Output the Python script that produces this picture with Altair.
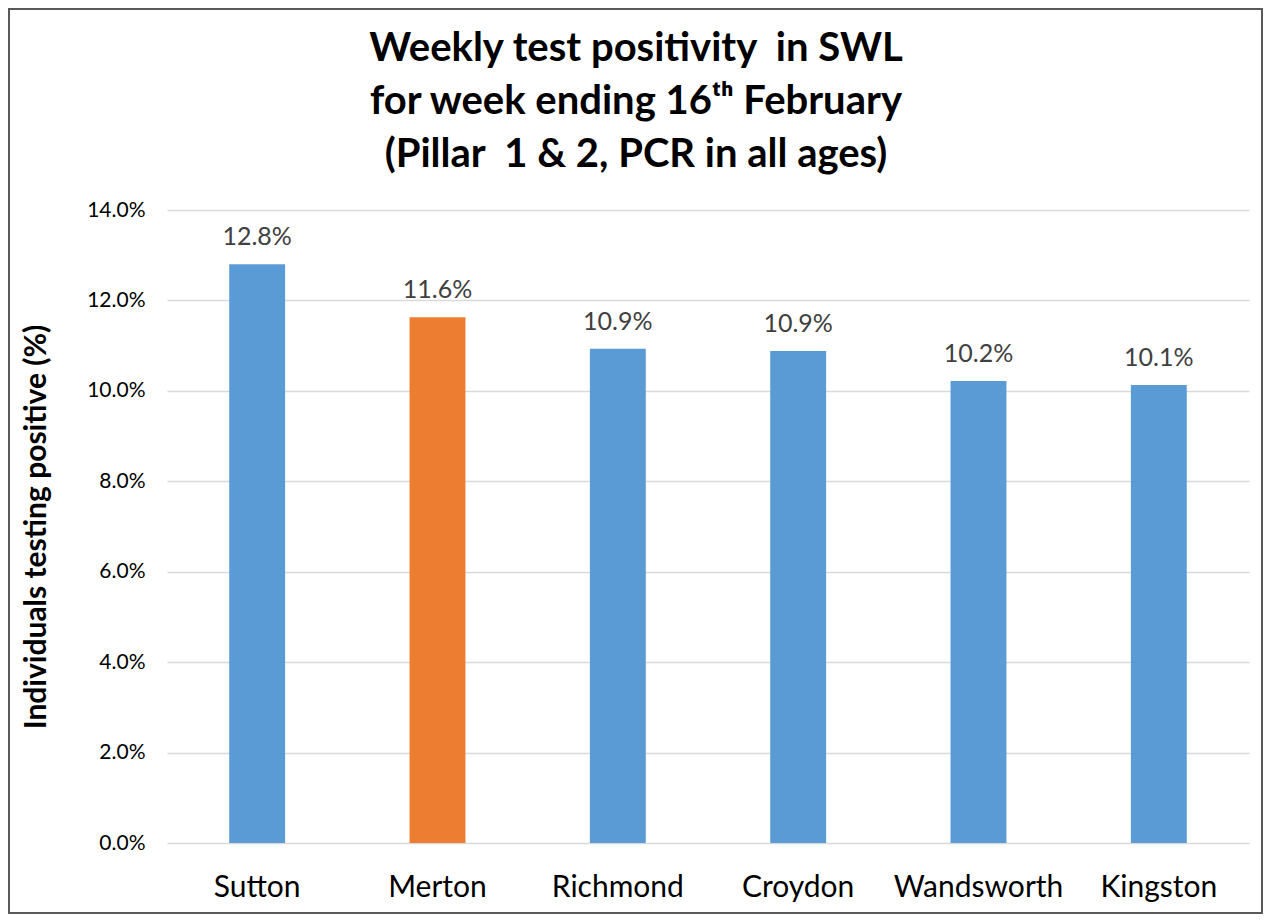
import altair as alt
import pandas as pd

boroughs = ["Sutton", "Merton", "Richmond", "Croydon", "Wandsworth", "Kingston"]
positivity = [0.128, 0.1163, 0.1093, 0.1088, 0.1022, 0.1013]
bar_colors = ["#5B9BD5", "#ED7D31", "#5B9BD5", "#5B9BD5", "#5B9BD5", "#5B9BD5"]
y_ticks = [0.0, 0.02, 0.04, 0.06, 0.08, 0.10, 0.12, 0.14]
title_lines = [
    "Weekly test positivity\u00a0 in SWL",
    "for week ending 16\u1d57\u02b0 February",
    "(Pillar\u00a0 1 & 2, PCR in all ages)",
]
y_title = "Individuals testing positive (%)"

df = pd.DataFrame({"borough": boroughs, "value": positivity, "color": bar_colors})

FONT = "Lato"
W, H = 1082, 633
PAD = {"left": 159, "top": 202, "right": 14, "bottom": 71}

x_enc = alt.X(
    "borough:N",
    sort=boroughs,
    scale=alt.Scale(paddingInner=0.69, paddingOuter=0.345),
    axis=alt.Axis(
        title=None, labelAngle=0, labelFontSize=30, labelColor="#000000",
        labelPadding=29, domain=False, ticks=False, grid=False, labelFont=FONT,
    ),
)
y_enc = alt.Y(
    "value:Q",
    scale=alt.Scale(domain=[0, 0.14], nice=False),
    axis=alt.Axis(
        values=y_ticks, format=".1%", title=y_title,
        titleFont=FONT, titleFontSize=30, titleFontWeight="bold", titleColor="#000000",
        titlePadding=35,
        labelFont=FONT, labelFontSize=21, labelColor="#000000", labelPadding=22,
        domain=False, ticks=False, grid=True, gridColor="#D9D9D9", gridWidth=1.5,
    ),
)

bars = alt.Chart(df).mark_bar().encode(
    x=x_enc, y=y_enc, color=alt.Color("color:N", scale=None)
)
labels = alt.Chart(df).mark_text(
    font=FONT, fontSize=25, color="#404040", baseline="alphabetic", dy=-19
).encode(
    x=alt.X("borough:N", sort=boroughs),
    y=alt.Y("value:Q"),
    text=alt.Text("value:Q", format=".1%"),
)
frame = alt.Chart(pd.DataFrame({"k": [0]})).mark_rect(
    fill=None, stroke="#595959", strokeWidth=2
).encode(
    x=alt.value(-PAD["left"] + 1),
    x2=alt.value(W + PAD["right"] - 1),
    y=alt.value(-PAD["top"] + 1),
    y2=alt.value(H + PAD["bottom"] - 1),
)

chart = (
    alt.layer(bars, labels, frame)
    .properties(
        width=W, height=H,
        autosize=alt.AutoSizeParams(type="none"),
        padding=PAD,
        background="white",
        title=alt.TitleParams(
            text=title_lines, font=FONT, fontSize=40, fontWeight="bold",
            color="#000000", lineHeight=53, anchor="middle", frame="group",
            dx=-72, dy=197, offset=30,
        ),
    )
    .configure_view(stroke=None)
    .configure_axis(domain=False)
)

chart.save("out.html", embed_options={"renderer": "svg", "actions": False})
